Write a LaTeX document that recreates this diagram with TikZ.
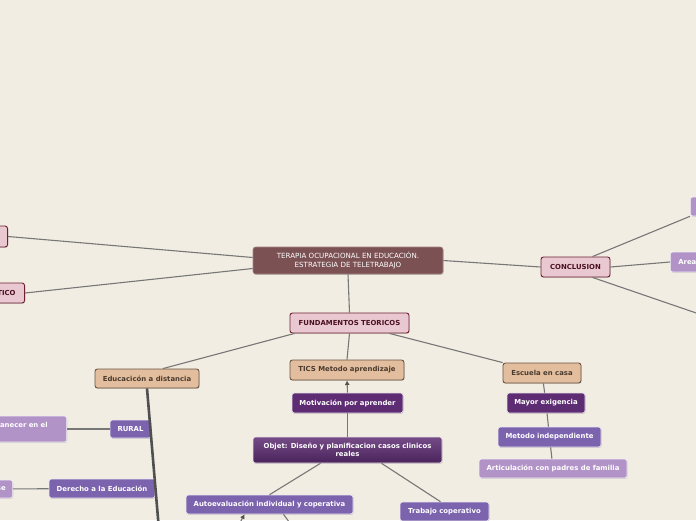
\documentclass[tikz,border=0pt]{standalone}
\usepackage{fontspec}
\setmainfont{DejaVu Sans}
\usetikzlibrary{arrows.meta,shadows}
\definecolor{bgc}{HTML}{F2EDE2}
\definecolor{rootc}{HTML}{7B5153}
\definecolor{pinkfill}{HTML}{E9C8D1}
\definecolor{pinkdraw}{HTML}{6E1F33}
\definecolor{pinktext}{HTML}{4B0F22}
\definecolor{tanfill}{HTML}{E3BE9E}
\definecolor{tandraw}{HTML}{6A5443}
\definecolor{tantext}{HTML}{4A3B2E}
\definecolor{darkpurple}{HTML}{5D2C72}
\definecolor{midpurple}{HTML}{7C63AE}
\definecolor{lightpurple}{HTML}{B193C8}
\definecolor{linec}{HTML}{777777}
\definecolor{trunkc}{HTML}{505050}
\begin{document}
\begin{tikzpicture}[x=1pt,y=-1pt,font=\fontsize{6.9}{8}\selectfont\bfseries,line width=1.1pt,
  >={Latex[length=4.5pt,width=5pt,color=trunkc]},
  box/.style={rounded corners=2.5pt,inner sep=0pt,align=center,
    drop shadow={shadow xshift=0.6pt,shadow yshift=-0.9pt,opacity=0.3}},
  topbox/.style={box,fill=rootc,draw=rootc!70!white,line width=0.6pt,text=white,
    font=\fontsize{7.1}{8.2}\selectfont},
  pinkbox/.style={box,fill=pinkfill,draw=pinkdraw,line width=0.9pt,text=pinktext},
  tanbox/.style={box,fill=tanfill,draw=tandraw,line width=0.9pt,text=tantext},
  darkbox/.style={box,fill=darkpurple,draw=white!85!darkpurple,line width=0.6pt,text=white},
  midbox/.style={box,fill=midpurple,draw=white!85!midpurple,line width=0.6pt,text=white},
  lightbox/.style={box,fill=lightpurple,draw=white!85!lightpurple,line width=0.6pt,text=white},
  link/.style={draw=linec,line width=1.1pt},
  trunk/.style={draw=trunkc,line width=2.6pt}]
  \useasboundingbox (0,0) rectangle (696,520);
  \clip (0,0) rectangle (696,520);
  \fill[bgc] (0,0) rectangle (696,520);

  \node[topbox,minimum width=190pt,minimum height=27pt] (root) at (348,260.5)
    {TERAPIA OCUPACIONAL EN EDUCACIÓN.\\ESTRATEGIA DE TELETRABAJO};
  \node[pinkbox,anchor=east,minimum width=60pt,minimum height=21pt] (left1) at (8,236.5) {};
  \node[pinkbox,anchor=east,minimum height=20pt,text width=50pt,inner xsep=9pt,align=right]
    (diag) at (25,293) {TICO};
  \node[pinkbox,minimum width=69pt,minimum height=20pt] (concl) at (575.5,267) {CONCLUSION};
  \node[lightbox,anchor=west,minimum width=40pt,minimum height=19pt] (rtop) at (690,206.5) {};
  \node[lightbox,anchor=west,minimum height=20pt,text width=50pt,inner xsep=8pt,align=left]
    (area) at (670,262) {Area};
  \coordinate (rb) at (705,316);
  \node[pinkbox,minimum width=119pt,minimum height=20pt] (fund) at (349.5,323) {FUNDAMENTOS TEORICOS};

  \node[tanbox,minimum width=104pt,minimum height=19pt] (edu) at (147,378.5) {Educacicón a distancia};
  \node[tanbox,minimum width=114pt,minimum height=20pt] (tics) at (347,370) {TICS Metodo aprendizaje};
  \node[tanbox,minimum width=78pt,minimum height=20pt] (casa) at (542,373) {Escuela en casa};

  \node[darkbox,minimum width=111pt,minimum height=20pt] (mot) at (347.5,403) {Motivación por aprender};
  \node[box,top color=darkpurple!85!white,bottom color=darkpurple!80!black,draw=white!85!darkpurple,
    line width=0.6pt,text=white,minimum width=189pt,minimum height=26pt] (obj) at (347.5,450)
    {Objet: Diseño y planificacion casos clinicos\\reales};
  \node[midbox,minimum width=167pt,minimum height=19pt] (auto) at (269.5,504.5)
    {Autoevaluación individual y coperativa};
  \node[midbox,minimum width=89pt,minimum height=19pt] (trab) at (444.5,511.5) {Trabajo coperativo};
  \coordinate (ab1) at (236,530);
  \coordinate (ab2) at (295,530);

  \node[darkbox,minimum width=78pt,minimum height=20pt] (mayor) at (546,403) {Mayor exigencia};
  \node[midbox,minimum width=103pt,minimum height=20pt] (metind) at (549.5,437) {Metodo independiente};
  \node[lightbox,minimum width=148pt,minimum height=19pt] (artic) at (553,468.5)
    {Articulación con padres de familia};

  \node[midbox,minimum width=41pt,minimum height=18pt] (rural) at (130.5,429) {RURAL};
  \node[midbox,minimum width=106pt,minimum height=19pt] (der) at (102,488.5) {Derecho a la Educación};
  \node[lightbox,anchor=east,minimum height=26pt,text width=60pt,inner xsep=19pt,align=right]
    (perm) at (67,429) {anecer en el\\\phantom{x}};
  \node[lightbox,anchor=east,minimum height=18pt,text width=30pt,inner xsep=7pt,align=right]
    (sep) at (13,489) {se};
  \coordinate (eb) at (159,530);

  \draw[link] ([yshift=3pt]root.west) -- (left1.east);
  \draw[link] ([yshift=-8pt]root.west) -- (diag.east);
  \draw[link] (root.east) -- (concl.west);
  \draw[link] (root.south) -- (fund.north);
  \draw[link] ([xshift=17pt]concl.north) -- (rtop.south west);
  \draw[link] (concl.east) -- (area.west);
  \draw[link] ([xshift=17pt]concl.south) -- (rb);
  \draw[link] ([xshift=-55pt]fund.south) -- ([xshift=16pt]edu.north);
  \draw[link] (fund.south) -- (tics.north);
  \draw[link] ([xshift=40pt]fund.south) -- (casa.north west);
  \draw[link,->] (mot.north) -- (tics.south);
  \draw[link] (mot) -- (obj);
  \draw[link] ([xshift=-27pt]obj.south) -- (auto.north);
  \draw[link] ([xshift=34pt]obj.south) -- ([xshift=-4pt]trab.north);
  \draw[link,->] (ab1) -- ([xshift=-25pt]auto.south);
  \draw[link] ([xshift=14pt]auto.south) -- (ab2);
  \draw[link] (casa) -- (mayor);
  \draw[link] (mayor) -- (metind);
  \draw[link] (metind) -- (artic);
  \draw[trunk] (edu.south) -- (eb);
  \draw[link] (rural) -- (perm);
  \draw[link] (der) -- (sep);
\end{tikzpicture}
\end{document}
